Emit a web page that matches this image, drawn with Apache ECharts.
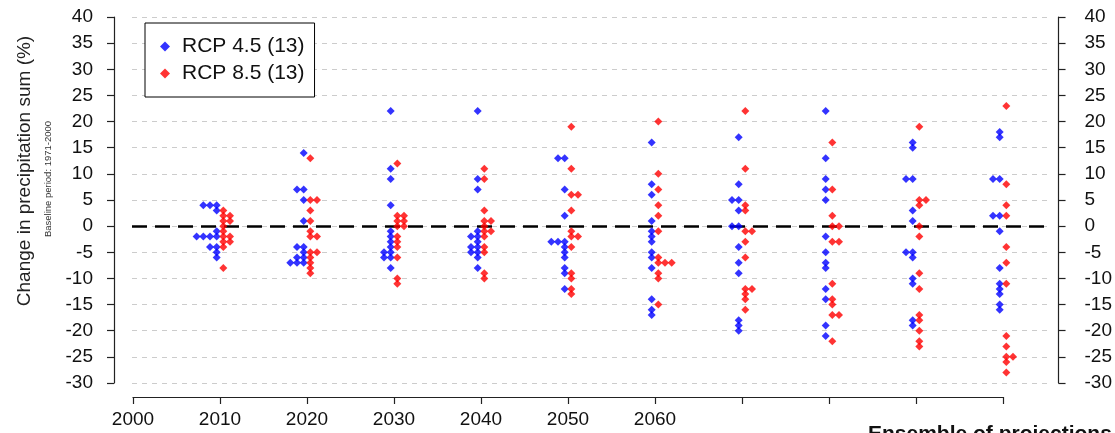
<!DOCTYPE html>
<html>
<head>
<meta charset="utf-8">
<script src="https://cdn.jsdelivr.net/npm/echarts@6/dist/echarts.min.js"></script>
<style>
html,body{margin:0;padding:0;background:#fff;}
#chart{width:1115px;height:433px;}
</style>
</head>
<body>
<div id="chart"></div>
<script>
// ---- data ----
const decades = [2010, 2020, 2030, 2040, 2050, 2060, 2070, 2080, 2090, 2100];
const rcp45 = [
  [4,4,4,3,-1,-2,-2,-2,-2,-4,-4,-5,-6],
  [14,7,7,5,1,-4,-4,-5,-6,-6,-7,-7,-7],
  [22,11,9,4,-1,-2,-3,-4,-5,-5,-6,-6,-8],
  [22,9,7,-1,-2,-2,-3,-4,-4,-5,-5,-6,-8],
  [13,13,7,2,-3,-3,-3,-4,-5,-6,-8,-9,-12],
  [16,8,6,1,-1,-2,-3,-5,-6,-8,-14,-16,-17],
  [17,8,5,5,3,0,0,-4,-7,-9,-18,-19,-20],
  [22,13,9,7,5,-2,-5,-7,-8,-12,-14,-19,-21],
  [16,15,9,9,3,1,-5,-5,-6,-10,-11,-18,-19],
  [18,17,9,9,2,2,-1,-8,-11,-12,-13,-15,-16]
];
const rcp85 = [
  [3,2,2,1,1,0,-1,-2,-2,-3,-3,-4,-8],
  [13,5,5,3,1,-1,-2,-2,-5,-5,-6,-7,-8,-9],
  [12,2,2,1,1,0,0,-2,-3,-4,-6,-10,-11],
  [11,9,3,1,1,0,-1,-1,-2,-4,-5,-9,-10],
  [19,11,6,6,3,-1,-2,-2,-4,-9,-10,-12,-13],
  [20,10,7,4,2,-1,-6,-7,-7,-7,-9,-10,-15],
  [22,11,4,3,-1,-1,-3,-6,-12,-12,-13,-14,-16],
  [16,7,2,0,0,-3,-3,-11,-14,-15,-17,-17,-22],
  [19,5,5,4,0,-2,-9,-12,-17,-18,-20,-22,-23],
  [23,8,4,2,-4,-7,-11,-21,-23,-25,-25,-26,-28]
];
const yTicks = {min: -30, max: 40, step: 5};
const xTicks = {min: 2000, max: 2100, step: 10, lastLabelled: 2060};
const seriesNames = ['RCP 4.5 (13)', 'RCP 8.5 (13)'];
const seriesColors = ['#0000ff', '#ff0000'];

// ---- swarm layout: identical values are stacked sideways ----
function swarm(groups, side) {
  const centre = 0.38, step = 0.77;
  const out = [];
  groups.forEach((vals, i) => {
    const seen = {};
    vals.forEach(v => {
      const k = seen[v] || 0;
      seen[v] = k + 1;
      out.push([decades[i] + side * (centre + k * step), v]);
    });
  });
  return out;
}

const chart = echarts.init(document.getElementById('chart'), null, {renderer: 'canvas'});
const FONT = 'Liberation Sans, Arial, Helvetica, sans-serif';
const gTop = 17, gBottom = 50;

const option = {
  animation: false,
  backgroundColor: '#fff',
  grid: [
    {left: 114, right: 56, top: gTop, bottom: gBottom},
    {left: 132, right: 65, top: gTop, bottom: gBottom},
    {left: 133, right: 112, top: gTop, bottom: gBottom}
  ],
  xAxis: [
    {gridIndex: 0, type: 'value', min: 0, max: 1, show: false},
    {gridIndex: 1, type: 'value', min: 0, max: 1, show: false},
    {gridIndex: 2, type: 'value', min: xTicks.min, max: xTicks.max, interval: xTicks.step,
     position: 'bottom', offset: 14,
     axisLine: {show: true, onZero: false, lineStyle: {color: '#222', width: 1.2}},
     axisTick: {show: true, length: 7, inside: false, lineStyle: {color: '#222', width: 1.2}},
     splitLine: {show: false},
     axisLabel: {show: true, margin: 13, fontSize: 19, fontFamily: FONT, color: '#111',
       formatter: v => (v <= xTicks.lastLabelled ? String(v) : '')}}
  ],
  yAxis: [
    {gridIndex: 0, type: 'value', position: 'left', min: yTicks.min, max: yTicks.max, interval: yTicks.step,
     axisLine: {show: true, onZero: false, lineStyle: {color: '#222', width: 1.2}},
     axisTick: {show: true, length: 7, lineStyle: {color: '#222', width: 1.2}},
     splitLine: {show: false},
     axisLabel: {margin: 21, fontSize: 19, fontFamily: FONT, color: '#111'}},
    {gridIndex: 0, type: 'value', position: 'right', min: yTicks.min, max: yTicks.max, interval: yTicks.step,
     axisLine: {show: true, onZero: false, lineStyle: {color: '#222', width: 1.2}},
     axisTick: {show: true, length: 7, lineStyle: {color: '#222', width: 1.2}},
     splitLine: {show: false},
     axisLabel: {margin: 26, fontSize: 19, fontFamily: FONT, color: '#111'}},
    {gridIndex: 1, type: 'value', min: yTicks.min, max: yTicks.max, interval: yTicks.step,
     axisLine: {show: false}, axisTick: {show: false}, axisLabel: {show: false},
     splitLine: {show: true, lineStyle: {color: '#cccccc', width: 1, type: [5, 5]}}},
    {gridIndex: 2, type: 'value', min: yTicks.min, max: yTicks.max, show: false}
  ],
  legend: {
    orient: 'vertical', left: 145, top: 23,
    padding: [13, 10, 13, 15], itemGap: 6,
    borderColor: '#000', borderWidth: 1, borderRadius: 0,
    backgroundColor: '#fff',
    icon: 'diamond', itemWidth: 10, itemHeight: 10,
    textStyle: {fontSize: 21, fontFamily: FONT, color: '#111', padding: [0, 0, 0, 7]},
    data: seriesNames
  },
  graphic: [
    {type: 'text', x: 25, y: 171, rotation: Math.PI / 2,
     style: {text: 'Change in precipitation sum (%)', font: '19px ' + FONT, fill: '#222',
       textAlign: 'center', textVerticalAlign: 'middle'}},
    {type: 'text', x: 48, y: 179, rotation: Math.PI / 2,
     style: {text: 'Baseline period: 1971-2000', font: '9.5px ' + FONT, fill: '#333',
       textAlign: 'center', textVerticalAlign: 'middle'}},
    {type: 'text', x: 868, y: 424,
     style: {text: 'Ensemble of projections', font: 'bold 21px ' + FONT, fill: '#111',
       textAlign: 'left', textVerticalAlign: 'top'}}
  ],
  series: [
    {type: 'scatter', name: '_zero', xAxisIndex: 1, yAxisIndex: 2, data: [], silent: true, z: 3,
     markLine: {silent: true, symbol: ['none', 'none'], label: {show: false},
       lineStyle: {color: '#000', width: 2.5, type: [15, 8]},
       data: [{yAxis: 0}]}},
    {type: 'scatter', name: seriesNames[0], xAxisIndex: 2, yAxisIndex: 3, clip: false,
     symbol: 'diamond', symbolSize: 8, z: 5,
     itemStyle: {color: seriesColors[0]}, data: swarm(rcp45, -1)},
    {type: 'scatter', name: seriesNames[1], xAxisIndex: 2, yAxisIndex: 3, clip: false,
     symbol: 'diamond', symbolSize: 8, z: 5,
     itemStyle: {color: seriesColors[1]}, data: swarm(rcp85, 1)}
  ]
};
chart.setOption(option);
</script>
</body>
</html>
